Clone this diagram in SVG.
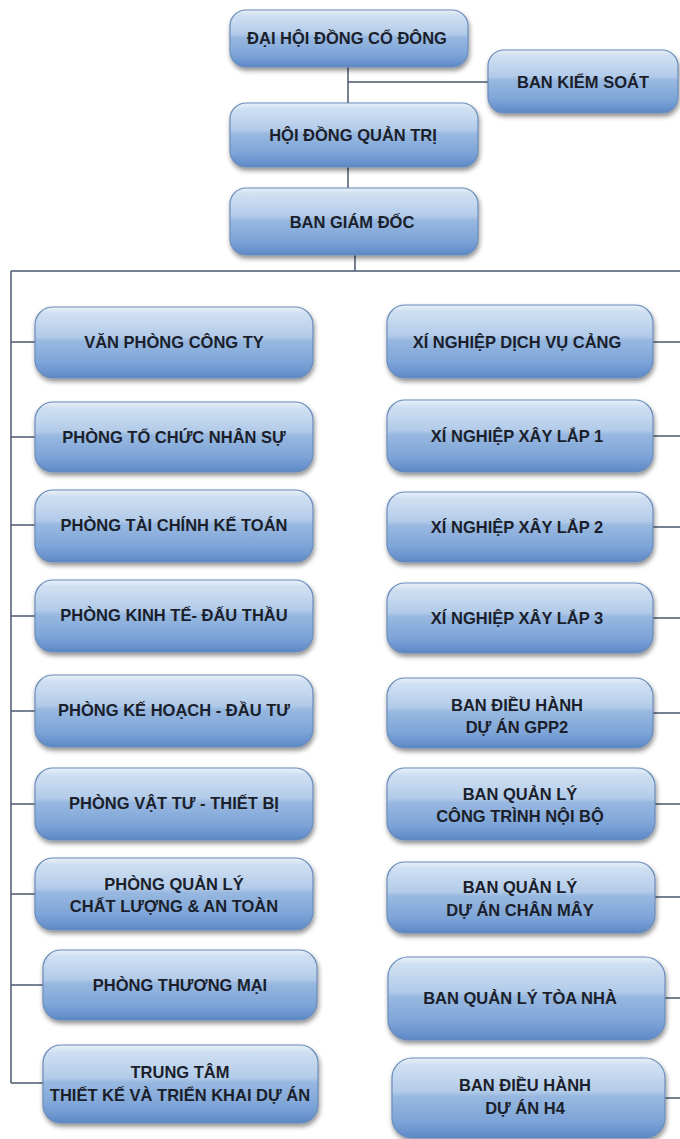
<svg xmlns="http://www.w3.org/2000/svg" width="680" height="1139" viewBox="0 0 680 1139">
<defs>
<linearGradient id="g" x1="0" y1="0" x2="0" y2="1">
<stop offset="0" stop-color="#e8f0f9"/>
<stop offset="0.09" stop-color="#d0e0f2"/>
<stop offset="0.42" stop-color="#b2cbe9"/>
<stop offset="0.48" stop-color="#98b8e0"/>
<stop offset="0.78" stop-color="#7ea5d8"/>
<stop offset="0.93" stop-color="#6892cd"/>
<stop offset="1" stop-color="#5a86c3"/>
</linearGradient>
<filter id="ds" x="-10%" y="-20%" width="120%" height="150%">
<feGaussianBlur in="SourceAlpha" stdDeviation="2.5"/>
<feOffset dx="1" dy="3" result="b"/>
<feComponentTransfer><feFuncA type="linear" slope="0.45"/></feComponentTransfer>
<feMerge><feMergeNode/><feMergeNode in="SourceGraphic"/></feMerge>
</filter>
</defs>
<style>
.box{fill:url(#g);stroke:#6a8cba;stroke-width:1.2;filter:url(#ds)}
.t{font-family:"Liberation Sans",Arial,sans-serif;font-weight:bold;font-size:16.5px;fill:#1b1f2c;text-anchor:middle}
.c{stroke:#4a5a70;stroke-width:1.5;fill:none}
</style>
<rect width="680" height="1139" fill="#ffffff"/>
<g id="connectors">
<path class="c" d="M348 67V103M348 82H488M348 167V188M355 255V271M11 271H680M11 271V1083"/>
<path class="c" d="M11 342H35M11 437H35M11 525H35M11 616H35M11 711H35M11 804H35M11 894H35M11 985H43M11 1083H43"/>
<path class="c" d="M653 342H680M653 436H680M653 527H680M653 618H680M653 713H680M655 804H680M655 897H680M665 998H680M665 1098H680"/>
</g>
<g id="n-dhdcd"><rect class="box" x="230" y="10" width="238" height="57" rx="16"/><text class="t" x="347" y="44">ĐẠI HỘI ĐỒNG CỔ ĐÔNG</text></g>
<g id="n-bks"><rect class="box" x="488" y="50" width="190" height="63" rx="16"/><text class="t" x="583" y="88">BAN KIỂM SOÁT</text></g>
<g id="n-hdqt"><rect class="box" x="230" y="103" width="248" height="64" rx="16"/><text class="t" x="353" y="141">HỘI ĐỒNG QUẢN TRỊ</text></g>
<g id="n-bgd"><rect class="box" x="230" y="188" width="248" height="67" rx="16"/><text class="t" x="352" y="228">BAN GIÁM ĐỐC</text></g>

<g id="n-vpct"><rect class="box" x="35" y="307" width="278" height="71" rx="18"/><text class="t" x="174" y="348">VĂN PHÒNG CÔNG TY</text></g>
<g id="n-ptcns"><rect class="box" x="35" y="402" width="278" height="70" rx="18"/><text class="t" x="174" y="443">PHÒNG TỔ CHỨC NHÂN SỰ</text></g>
<g id="n-ptckt"><rect class="box" x="35" y="490" width="278" height="72" rx="18"/><text class="t" x="174" y="531">PHÒNG TÀI CHÍNH KẾ TOÁN</text></g>
<g id="n-pktdt"><rect class="box" x="35" y="580" width="278" height="72" rx="18"/><text class="t" x="174" y="621">PHÒNG KINH TẾ- ĐẤU THẦU</text></g>
<g id="n-pkhdt"><rect class="box" x="35" y="675" width="278" height="72" rx="18"/><text class="t" x="174" y="716">PHÒNG KẾ HOẠCH - ĐẦU TƯ</text></g>
<g id="n-pvttb"><rect class="box" x="35" y="768" width="278" height="72" rx="18"/><text class="t" x="174" y="809">PHÒNG VẬT TƯ - THIẾT BỊ</text></g>
<g id="n-pqlcl"><rect class="box" x="35" y="858" width="278" height="72" rx="18"/><text class="t" x="174" y="890">PHÒNG QUẢN LÝ</text><text class="t" x="174" y="912">CHẤT LƯỢNG &amp; AN TOÀN</text></g>
<g id="n-ptm"><rect class="box" x="43" y="950" width="274" height="70" rx="18"/><text class="t" x="180" y="991">PHÒNG THƯƠNG MẠI</text></g>
<g id="n-tt"><rect class="box" x="43" y="1045" width="275" height="78" rx="18"/><text class="t" x="180" y="1078">TRUNG TÂM</text><text class="t" x="180" y="1101">THIẾT KẾ VÀ TRIỂN KHAI DỰ ÁN</text></g>

<g id="n-xndvc"><rect class="box" x="387" y="305" width="266" height="73" rx="18"/><text class="t" x="517" y="348">XÍ NGHIỆP DỊCH VỤ CẢNG</text></g>
<g id="n-xnxl1"><rect class="box" x="387" y="400" width="266" height="72" rx="18"/><text class="t" x="517" y="442">XÍ NGHIỆP XÂY LẮP 1</text></g>
<g id="n-xnxl2"><rect class="box" x="387" y="492" width="266" height="70" rx="18"/><text class="t" x="517" y="533">XÍ NGHIỆP XÂY LẮP 2</text></g>
<g id="n-xnxl3"><rect class="box" x="387" y="583" width="266" height="70" rx="18"/><text class="t" x="517" y="624">XÍ NGHIỆP XÂY LẮP 3</text></g>
<g id="n-gpp2"><rect class="box" x="387" y="678" width="266" height="70" rx="18"/><text class="t" x="517" y="711">BAN ĐIỀU HÀNH</text><text class="t" x="517" y="733">DỰ ÁN GPP2</text></g>
<g id="n-qlct"><rect class="box" x="387" y="768" width="268" height="72" rx="18"/><text class="t" x="520" y="800">BAN QUẢN LÝ</text><text class="t" x="520" y="822">CÔNG TRÌNH NỘI BỘ</text></g>
<g id="n-qlcm"><rect class="box" x="387" y="862" width="268" height="71" rx="18"/><text class="t" x="520" y="893">BAN QUẢN LÝ</text><text class="t" x="520" y="916">DỰ ÁN CHÂN MÂY</text></g>
<g id="n-qltn"><rect class="box" x="388" y="957" width="277" height="83" rx="20"/><text class="t" x="520" y="1004">BAN QUẢN LÝ TÒA NHÀ</text></g>
<g id="n-h4"><rect class="box" x="392" y="1058" width="273" height="80" rx="20"/><text class="t" x="525" y="1091">BAN ĐIỀU HÀNH</text><text class="t" x="525" y="1114">DỰ ÁN H4</text></g>
</svg>
